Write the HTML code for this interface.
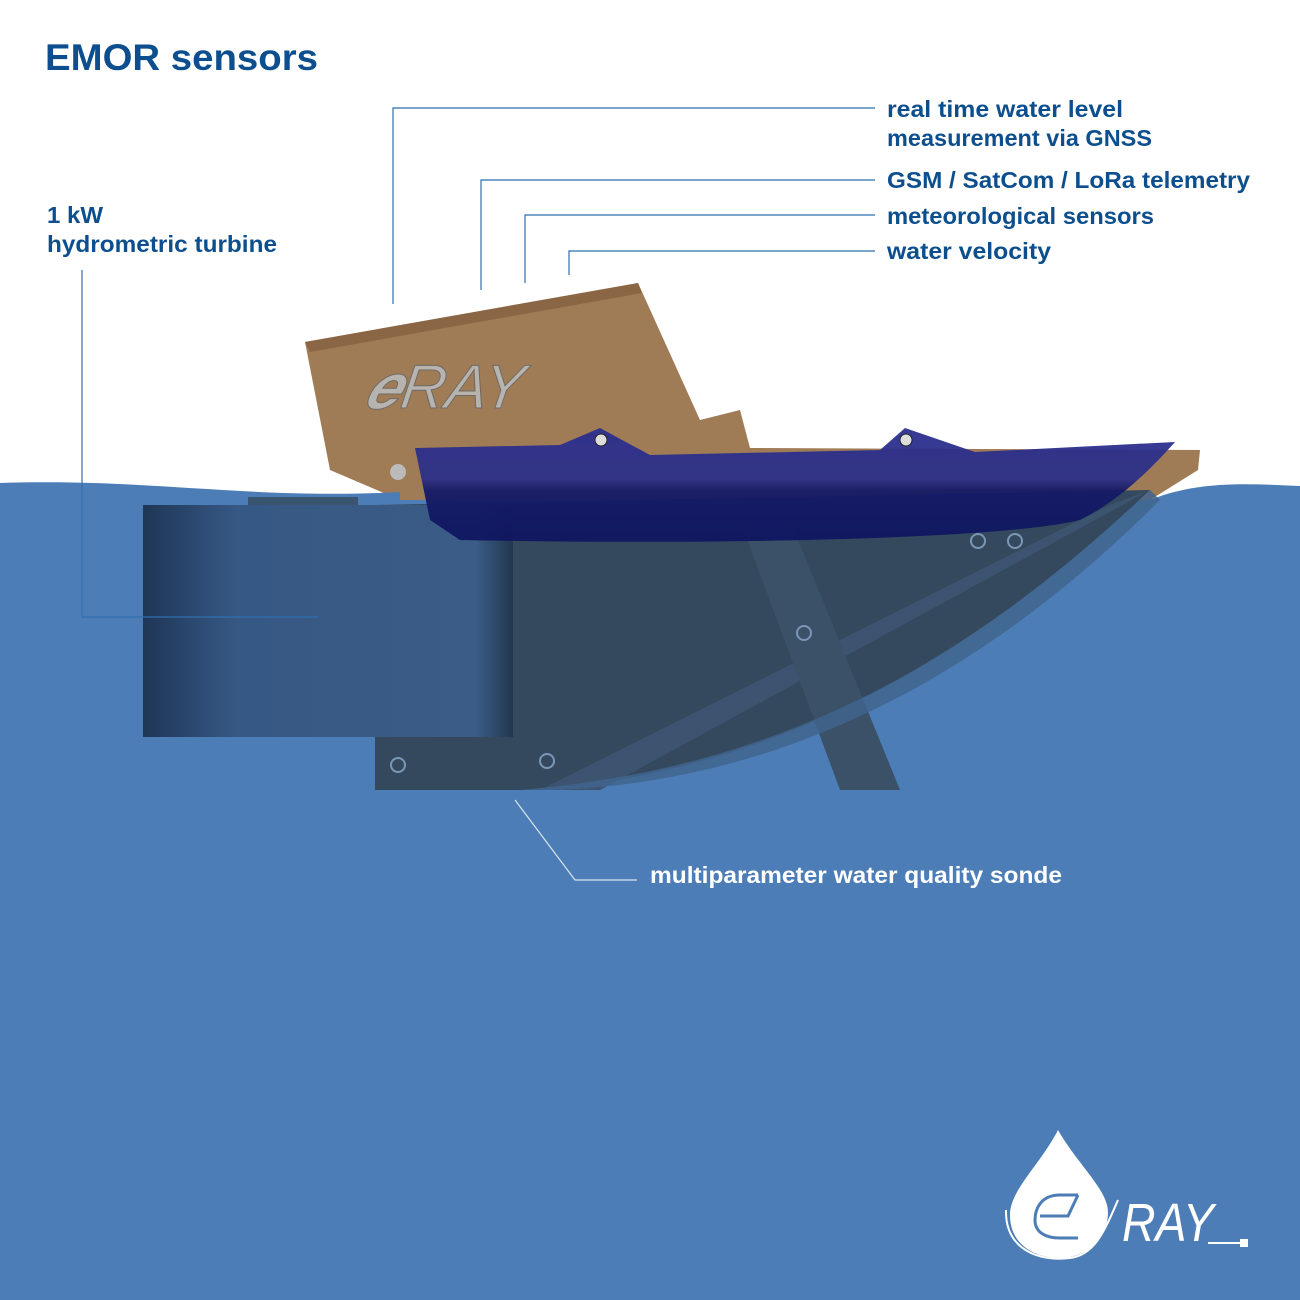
<!DOCTYPE html>
<html><head><meta charset="utf-8"><style>
html,body{margin:0;padding:0;background:#fff}
svg{display:block}
.t{font-family:"Liberation Sans",sans-serif;font-weight:bold;fill:#0d4f8e}
</style></head><body>
<svg width="1300" height="1300" viewBox="0 0 1300 1300" xmlns="http://www.w3.org/2000/svg">
<defs>
<linearGradient id="tb" x1="0" x2="1"><stop offset="0" stop-color="#1f3656"/><stop offset="0.25" stop-color="#365884"/><stop offset="0.9" stop-color="#3a5c86"/><stop offset="1" stop-color="#22374f"/></linearGradient>
<linearGradient id="hull" x1="0" y1="0" x2="0" y2="1"><stop offset="0" stop-color="#2b2f8f"/><stop offset="0.45" stop-color="#2d3086"/><stop offset="0.55" stop-color="#141a66"/><stop offset="1" stop-color="#0f1660"/></linearGradient>
</defs>
<text class="t" x="45" y="70" font-size="37" textLength="273" lengthAdjust="spacingAndGlyphs">EMOR sensors</text>
<polygon points="305,342 638,283 700,420 740,410 750,448 1200,450 1198,470 1150,500 400,500 330,470" fill="#a07c56"/>
<polygon points="305,342 638,283 642,293 310,352" fill="#8a6644"/>
<text x="420" y="408" font-family="Liberation Sans,sans-serif" font-size="62" font-style="italic" fill="#b7b4b0" stroke="#6e6a66" stroke-width="1" transform="skewX(-8)">&#x1D486;RAY</text>
<path d="M0,483 C150,478 250,500 400,492 L400,500 L1150,500 C1200,480 1250,484 1300,486 L1300,1300 L0,1300 Z" fill="#4c7db6"/>
<!-- dark frame -->
<path d="M375,505 L1150,490 C950,680 760,770 540,790 L375,790 Z" fill="#34495e"/>
<polygon points="1150,490 1110,505 540,790 600,790" fill="#3d5470"/>
<polygon points="740,520 790,520 900,790 840,790" fill="#3a5168"/>
<path d="M520,790 C760,770 950,680 1150,490 L1160,500 C960,700 760,780 560,790 Z" fill="#41648e" opacity="0.85"/>
<!-- turbine -->
<rect x="143" y="505" width="370" height="232" fill="url(#tb)"/>
<rect x="248" y="497" width="110" height="8" fill="#3a5570"/>
<!-- hull -->
<path d="M415,448 L560,445 L600,428 L650,455 L880,450 L905,428 L975,452 L1175,442 C1150,470 1120,500 1080,520 C1000,540 700,545 460,540 L430,520 Z" fill="url(#hull)" opacity="0.95"/>
<circle cx="601" cy="440" r="6" fill="#ddd" stroke="#222"/>
<circle cx="906" cy="440" r="6" fill="#ddd" stroke="#222"/>
<circle cx="398" cy="472" r="8" fill="#bbb"/>
<g fill="none" stroke="#7a97b8" stroke-width="2"><circle cx="978" cy="541" r="7"/><circle cx="1015" cy="541" r="7"/><circle cx="804" cy="633" r="7"/><circle cx="398" cy="765" r="7"/><circle cx="547" cy="761" r="7"/></g>
<g fill="none" stroke="#2f6fb0" stroke-width="1.2">
<polyline points="393,304 393,108 875,108"/>
<polyline points="481,290 481,180 875,180"/>
<polyline points="525,283 525,215 875,215"/>
<polyline points="569,275 569,251 875,251"/>
<polyline points="82,270 82,617 318,617"/>
</g>
<polyline points="515,800 575,880 637,880" fill="none" stroke="#d8e4f0" stroke-width="1.2"/>
<g class="t" font-size="23">
<text x="887" y="117" textLength="236" lengthAdjust="spacingAndGlyphs">real time water level</text>
<text x="887" y="146" textLength="265" lengthAdjust="spacingAndGlyphs">measurement via GNSS</text>
<text x="887" y="188" textLength="363" lengthAdjust="spacingAndGlyphs">GSM / SatCom / LoRa telemetry</text>
<text x="887" y="224" textLength="267" lengthAdjust="spacingAndGlyphs">meteorological sensors</text>
<text x="887" y="259" textLength="164" lengthAdjust="spacingAndGlyphs">water velocity</text>
<text x="47" y="223" textLength="56" lengthAdjust="spacingAndGlyphs">1 kW</text>
<text x="47" y="252" textLength="230" lengthAdjust="spacingAndGlyphs">hydrometric turbine</text>
</g>
<text x="650" y="883" font-family="Liberation Sans,sans-serif" font-weight="bold" font-size="23" fill="#fff" textLength="412" lengthAdjust="spacingAndGlyphs">multiparameter water quality sonde</text>
<path d="M1058,1130 C1040,1165 1010,1190 1010,1215 C1010,1245 1035,1258 1060,1258 C1085,1258 1108,1240 1108,1212 C1108,1190 1078,1165 1058,1130 Z" fill="#fff"/>
<path d="M1078,1195 L1060,1195 C1040,1195 1035,1210 1035,1220 C1035,1232 1045,1238 1060,1238 L1078,1238 M1040,1216 L1068,1216 L1078,1195" fill="none" stroke="#4c7db6" stroke-width="3"/>
<path d="M1006,1210 C1005,1250 1040,1262 1070,1258 C1095,1255 1105,1230 1118,1200" fill="none" stroke="#fff" stroke-width="2"/>
<text x="1122" y="1241" font-family="Liberation Sans,sans-serif" font-size="54" fill="#fff" font-style="italic" textLength="92" lengthAdjust="spacingAndGlyphs">RAY</text>
<line x1="1208" y1="1243" x2="1240" y2="1243" stroke="#fff" stroke-width="2"/>
<rect x="1240" y="1239" width="8" height="8" fill="#fff"/>
</svg>
</body></html>
